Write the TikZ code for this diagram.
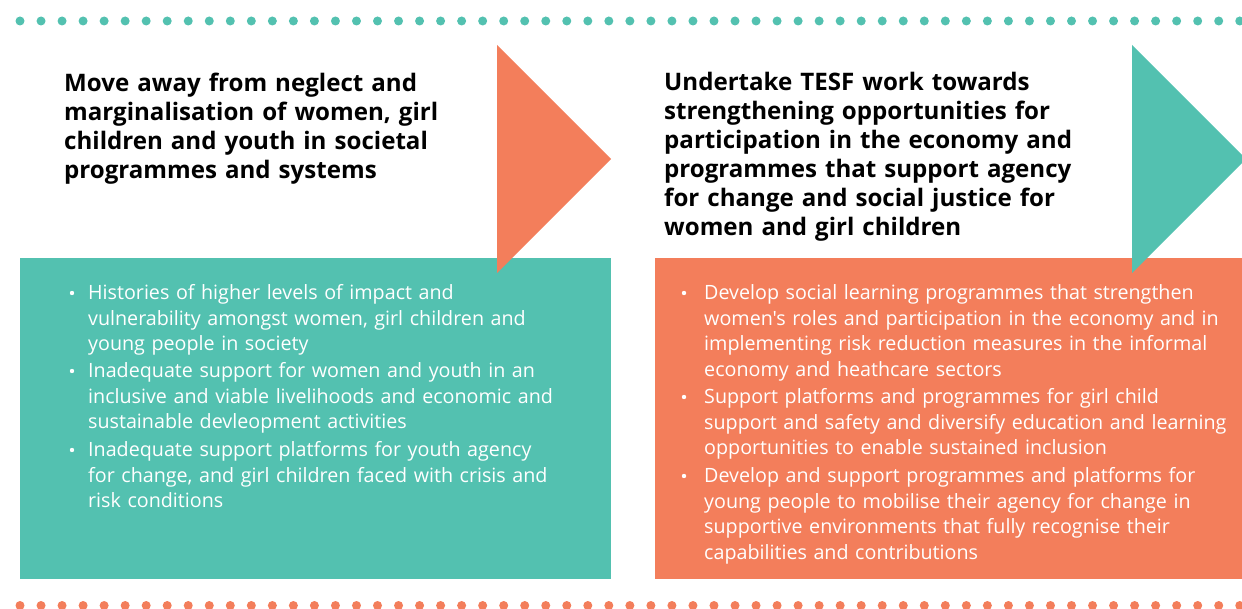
\documentclass[tikz,border=0pt]{standalone}
\usepackage{fontspec}
\setmainfont{Open Sans}[Ligatures=TeXOff]
\definecolor{teal1}{RGB}{83,193,176}
\definecolor{orange1}{RGB}{243,126,91}
\begin{document}
\begin{tikzpicture}[x=1pt,y=1pt,
  head/.style={anchor=base west,inner sep=0pt,text width=560pt,align=left,
    font=\fontsize{24.1}{29}\selectfont\bfseries,text=black},
  body/.style={anchor=base west,inner sep=0pt,text width=560pt,align=left,
    font=\fontsize{19.7}{25.5}\selectfont,text=white},
  bul/.style={circle,fill=white,inner sep=0pt,minimum size=4.4pt}]
\useasboundingbox (0,0) rectangle (1242,608);
\begin{scope}
\clip (0,0) rectangle (1242,608);
% dots
\foreach \i in {0,...,59} {
  \fill[teal1] (20+\i*21.03,587) circle (4.5);
  \fill[orange1] (20+\i*21.03,2.5) circle (4.5);
}
% boxes
\fill[teal1] (20,29) rectangle (611,350);
\fill[orange1] (655,29) rectangle (1242,350);
% arrows
\fill[orange1] (497,563) -- (611,449) -- (497,335) -- cycle;
\fill[teal1] (1132,563) -- (1246,449) -- (1132,335) -- cycle;
\end{scope}
% headings
\node[head] (h1) at (64,516) {Move away from neglect and\\marginalisation of women, girl\\children and youth in societal\\programmes and systems};
\node[head] (h2) at (664,517) {Undertake TESF work towards\\strengthening opportunities for\\participation in the economy and\\programmes that support agency\\for change and social justice for\\women and girl children};
% left bullets
\node[bul] (bl1) at (72,315) {};
\node[body] (l1) at (88,308) {Histories of higher levels of impact and\\vulnerability amongst women, girl children and\\young people in society};
\node[bul] (bl2) at (72,237) {};
\node[body] (l2) at (88,230) {Inadequate support for women and youth in an\\inclusive and viable livelihoods and economic and\\sustainable devleopment activities};
\node[bul] (bl3) at (72,158) {};
\node[body] (l3) at (88,151) {Inadequate support platforms for youth agency\\for change, and girl children faced with crisis and\\risk conditions};
% right bullets
\node[bul] (br1) at (684,315) {};
\node[body] (r1) at (704,308) {Develop social learning programmes that strengthen\\women's roles and participation in the economy and in\\implementing risk reduction measures in the informal\\economy and heathcare sectors};
\node[bul] (br2) at (684,211) {};
\node[body] (r2) at (704,204) {Support platforms and programmes for girl child\\support and safety and diversify education and learning\\opportunities to enable sustained inclusion};
\node[bul] (br3) at (684,132) {};
\node[body] (r3) at (704,125) {Develop and support programmes and platforms for\\young people to mobilise their agency for change in\\supportive environments that fully recognise their\\capabilities and contributions};
\end{tikzpicture}
\end{document}
